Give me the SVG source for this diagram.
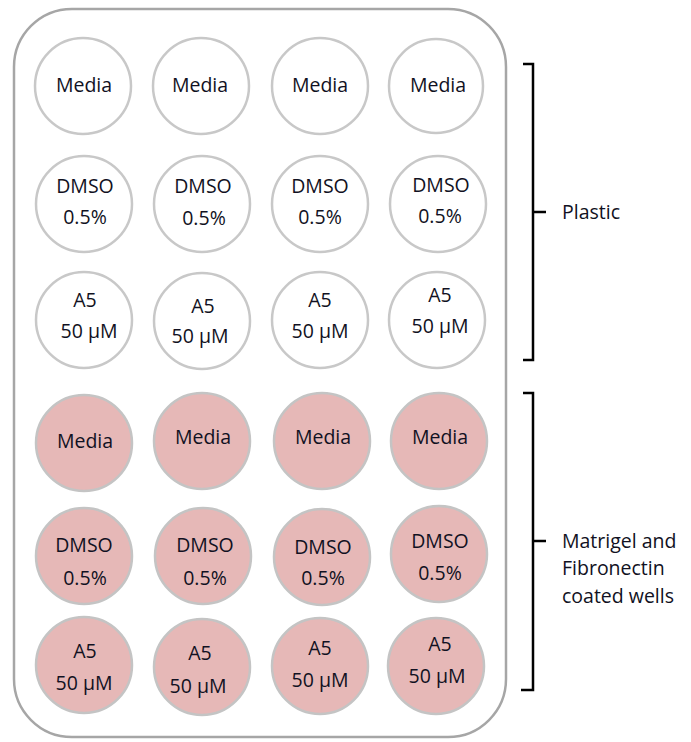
<svg xmlns="http://www.w3.org/2000/svg" width="691" height="742" viewBox="0 0 691 742">
<style>
.plate{fill:#ffffff;stroke:#a6a6a6;stroke-width:2.5}
.w{fill:#ffffff;stroke:#c8c8c8;stroke-width:2.5}
.p{fill:#e6b8b7;stroke:#c4c4c4;stroke-width:2.5}
text{font-family:"Open Sans","Liberation Sans",sans-serif;font-size:19.5px;fill:#111122;text-anchor:middle}
.lbl{text-anchor:start}
.br{fill:none;stroke:#000000;stroke-width:2.5}
</style>
<rect class="plate" x="14" y="9" width="492" height="728" rx="58" ry="58"/>
<g id="r1c1"><circle class="w" cx="83" cy="86" r="48"/><text x="84" y="92">Media</text></g>
<g id="r1c2"><circle class="w" cx="201" cy="86" r="48"/><text x="200" y="92">Media</text></g>
<g id="r1c3"><circle class="w" cx="320" cy="86" r="48"/><text x="320" y="92">Media</text></g>
<g id="r1c4"><circle class="w" cx="436" cy="86" r="47"/><text x="438" y="92">Media</text></g>
<g id="r2c1"><circle class="w" cx="84" cy="204" r="48"/><text x="85" y="193">DMSO</text><text x="85" y="224">0.5%</text></g>
<g id="r2c2"><circle class="w" cx="202" cy="204" r="48"/><text x="203" y="193">DMSO</text><text x="204" y="225">0.5%</text></g>
<g id="r2c3"><circle class="w" cx="320" cy="204" r="48"/><text x="320" y="193">DMSO</text><text x="320" y="224">0.5%</text></g>
<g id="r2c4"><circle class="w" cx="438" cy="204" r="48"/><text x="441" y="192">DMSO</text><text x="440" y="223">0.5%</text></g>
<g id="r3c1"><circle class="w" cx="84" cy="320" r="48"/><text x="85" y="307">A5</text><text x="89" y="338">50 µM</text></g>
<g id="r3c2"><circle class="w" cx="202" cy="321" r="48"/><text x="203" y="313">A5</text><text x="200" y="343">50 µM</text></g>
<g id="r3c3"><circle class="w" cx="320" cy="320" r="48"/><text x="320" y="307">A5</text><text x="320" y="338">50 µM</text></g>
<g id="r3c4"><circle class="w" cx="437" cy="320" r="48"/><text x="440" y="302">A5</text><text x="440" y="333">50 µM</text></g>
<g id="r4c1"><circle class="p" cx="84" cy="443" r="48"/><text x="85" y="448">Media</text></g>
<g id="r4c2"><circle class="p" cx="202" cy="441" r="48"/><text x="203" y="444">Media</text></g>
<g id="r4c3"><circle class="p" cx="322" cy="441" r="48"/><text x="323" y="444">Media</text></g>
<g id="r4c4"><circle class="p" cx="439" cy="441" r="48"/><text x="440" y="444">Media</text></g>
<g id="r5c1"><circle class="p" cx="84" cy="556" r="48"/><text x="84" y="552">DMSO</text><text x="85" y="585">0.5%</text></g>
<g id="r5c2"><circle class="p" cx="203" cy="556" r="48"/><text x="205" y="552">DMSO</text><text x="205" y="585">0.5%</text></g>
<g id="r5c3"><circle class="p" cx="322" cy="557" r="48"/><text x="323" y="554">DMSO</text><text x="323" y="585">0.5%</text></g>
<g id="r5c4"><circle class="p" cx="439" cy="554" r="48"/><text x="440" y="548">DMSO</text><text x="440" y="580">0.5%</text></g>
<g id="r6c1"><circle class="p" cx="84" cy="665" r="48"/><text x="85" y="658">A5</text><text x="84" y="690">50 µM</text></g>
<g id="r6c2"><circle class="p" cx="202" cy="667" r="48"/><text x="200" y="660">A5</text><text x="198" y="693">50 µM</text></g>
<g id="r6c3"><circle class="p" cx="320" cy="666" r="48"/><text x="320" y="655">A5</text><text x="320" y="687">50 µM</text></g>
<g id="r6c4"><circle class="p" cx="436" cy="666" r="48"/><text x="440" y="651">A5</text><text x="437" y="683">50 µM</text></g>
<g id="connectors">
<path class="br" d="M523 64 H533 V360 H523 M533 212 H546"/>
<path class="br" d="M523 393 H533 V690 H521 M533 541 H546"/>
</g>
<g id="plastic"><text class="lbl" x="562" y="219">Plastic</text></g>
<g id="coated"><text class="lbl" x="562" y="548">Matrigel and</text><text class="lbl" x="562" y="575">Fibronectin</text><text class="lbl" x="562" y="603">coated wells</text></g>
</svg>
